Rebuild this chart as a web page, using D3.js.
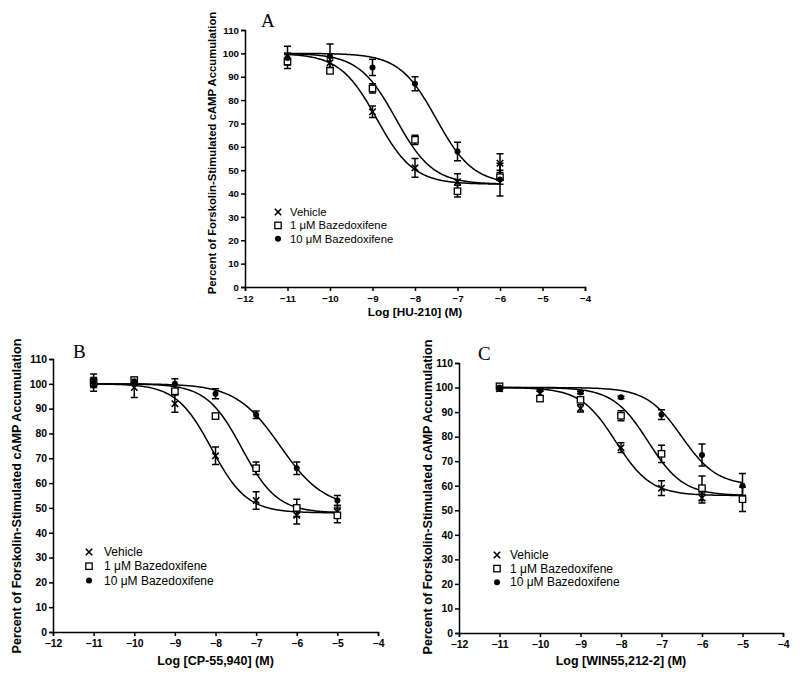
<!DOCTYPE html>
<html><head><meta charset="utf-8">
<script src="https://cdn.jsdelivr.net/npm/d3@7"></script>
<style>body{margin:0;background:#fff}svg{display:block}</style>
</head><body>
<svg id="chart" width="800" height="681"></svg>
<script>
// ---------- DATA ----------
const seriesNames = ["Vehicle", "1 \u03bcM Bazedoxifene", "10 \u03bcM Bazedoxifene"];
const xTickValues = [-12, -11, -10, -9, -8, -7, -6, -5, -4];
const yTickValues = [0, 10, 20, 30, 40, 50, 60, 70, 80, 90, 100, 110];

// Panel A: HU-210
const hu210Dose = [-11, -10, -9, -8, -7, -6];
const hu210Vehicle = [99, 96, 75, 51, 45, 53];
const hu210VehicleErr = [4, 2, 2.5, 4, 3.5, 4];
const hu210Bzd1 = [96.5, 92.5, 85, 63, 41, 47];
const hu210Bzd1Err = [3, 1, 2, 2, 2.5, 3];
const hu210Bzd10 = [98, 99, 94, 87, 58, 46];
const hu210Bzd10Err = [2, 5, 3.5, 3, 4, 7];
// fit: [top, bottom, logIC50, hill]
const hu210Fit = [[100, 44, -8.9, 1], [100, 44, -8.45, 1], [100, 44, -7.5, 1]];

// Panel B: CP-55,940
const cpDose = [-11, -10, -9, -8, -7, -6, -5];
const cpVehicle = [100.5, 98.5, 92, 71, 53, 47, 48.5];
const cpVehicleErr = [3.5, 4, 3.5, 3.5, 3.5, 3.5, 2.5];
const cpBzd1 = [100.5, 101.5, 97, 87, 66, 50, 47];
const cpBzd1Err = [1.5, 1, 1, 1, 2.5, 3.5, 3];
const cpBzd10 = [100.5, 101, 100, 96, 87.5, 66, 53];
const cpBzd10Err = [2, 1, 2, 2, 1.5, 2.5, 2];
const cpFit = [[100, 48, -8.1, 1], [100, 48, -7.35, 1], [100, 50, -6.41, 0.8]];

// Panel C: WIN55,212-2
const winDose = [-11, -10, -9, -8, -7, -6, -5];
const winVehicle = [99.5, 97.5, 91.5, 75.5, 59, 55, 55];
const winVehicleErr = [1, 1, 1.5, 2, 3, 2, 1];
const winBzd1 = [100.5, 95.5, 95, 88.5, 73, 59, 54.5];
const winBzd1Err = [1, 1, 1, 2, 3.5, 5, 5];
const winBzd10 = [100, 99, 98, 96, 89, 72.5, 60];
const winBzd10Err = [0.5, 0.5, 0.5, 0.5, 2, 4.5, 5];
const winFit = [[100, 56, -8.13, 1], [100, 56, -7.33, 1], [100, 60, -6.5, 1]];

// ---------- LAYOUT ----------
const panels = [
  { letter: "A", xlabel: "Log [HU-210] (M)", dose: hu210Dose,
    values: [hu210Vehicle, hu210Bzd1, hu210Bzd10], errs: [hu210VehicleErr, hu210Bzd1Err, hu210Bzd10Err], fits: hu210Fit,
    x0: 245, x1: 585, y0: 287, y1: 30, ylabX: 212, ylabCY: 153, ylabFS: 11.3, tickFS: 9.7, xTickY: 12,
    letterX: 261, letterY: 27, xlabY: 316, xlabFS: 11.8,
    legX: 278, legTextX: 290, legY: 212, legDy: 13.4, legFS: 11.3 },
  { letter: "B", xlabel: "Log [CP-55,940] (M)", dose: cpDose,
    values: [cpVehicle, cpBzd1, cpBzd10], errs: [cpVehicleErr, cpBzd1Err, cpBzd10Err], fits: cpFit,
    x0: 53, x1: 378, y0: 632, y1: 359, ylabX: 17, ylabCY: 496, ylabFS: 12.6, tickFS: 10.4, xTickY: 11,
    letterX: 73, letterY: 358, xlabY: 665, xlabFS: 12.5,
    legX: 89, legTextX: 104, legY: 552, legDy: 14.2, legFS: 12 },
  { letter: "C", xlabel: "Log [WIN55,212-2] (M)", dose: winDose,
    values: [winVehicle, winBzd1, winBzd10], errs: [winVehicleErr, winBzd1Err, winBzd10Err], fits: winFit,
    x0: 459, x1: 783, y0: 633, y1: 363, ylabX: 428, ylabCY: 497, ylabFS: 12.6, tickFS: 10.4, xTickY: 11,
    letterX: 478, letterY: 360, xlabY: 665, xlabFS: 12.5,
    legX: 497, legTextX: 510, legY: 555, legDy: 13.6, legFS: 12 }
];

const svg = d3.select("#chart");
const FONT = "'Liberation Sans', Arial, sans-serif";

function drawMarker(g, type, cx, cy) {
  if (type === 0) {
    const s = 3.2;
    g.append("path").attr("d", `M${cx - s},${cy - s}L${cx + s},${cy + s}M${cx - s},${cy + s}L${cx + s},${cy - s}`)
      .attr("stroke", "#000").attr("stroke-width", 1.6).attr("fill", "none");
  } else if (type === 1) {
    const s = 3.2;
    g.append("rect").attr("x", cx - s).attr("y", cy - s).attr("width", 2 * s).attr("height", 2 * s)
      .attr("fill", "#fff").attr("stroke", "#000").attr("stroke-width", 1.3);
  } else {
    g.append("circle").attr("cx", cx).attr("cy", cy).attr("r", 3).attr("fill", "#000");
  }
}

panels.forEach(p => {
  const x = d3.scaleLinear().domain([-12, -4]).range([p.x0, p.x1]);
  const y = d3.scaleLinear().domain([0, 110]).range([p.y0, p.y1]);
  const g = svg.append("g");

  // axes
  const xa = g.append("g").attr("transform", `translate(0,${p.y0})`)
    .call(d3.axisBottom(x).tickValues(xTickValues).tickFormat(d3.format("d")).tickSizeOuter(0).tickSize(4));
  const ya = g.append("g").attr("transform", `translate(${p.x0},0)`)
    .call(d3.axisLeft(y).tickValues(yTickValues).tickFormat(d3.format("d")).tickSizeOuter(0).tickSize(4).tickPadding(2));
  [xa, ya].forEach(a => {
    a.select(".domain").attr("stroke", "#000").attr("stroke-width", 1.5);
    a.selectAll(".tick line").attr("stroke", "#000").attr("stroke-width", 1.5);
    a.selectAll(".tick text").attr("fill", "#000").style("font-family", FONT)
      .style("font-weight", "bold").style("font-size", p.tickFS + "px");
  });
  xa.selectAll(".tick text").attr("y", p.xTickY).attr("dy", "0.35em");

  // axis titles
  g.append("text").attr("x", (p.x0 + p.x1) / 2).attr("y", p.xlabY).attr("text-anchor", "middle")
    .style("font-family", FONT).style("font-weight", "bold").style("font-size", p.xlabFS + "px").text(p.xlabel);
  g.append("text").attr("transform", `translate(${p.ylabX},${p.ylabCY}) rotate(-90)`)
    .attr("text-anchor", "middle").attr("dy", "0.35em")
    .style("font-family", FONT).style("font-weight", "bold").style("font-size", p.ylabFS + "px")
    .text("Percent of Forskolin-Stimulated cAMP Accumulation");

  // panel letter
  g.append("text").attr("x", p.letterX).attr("y", p.letterY)
    .style("font-family", "'Liberation Serif', 'Times New Roman', serif").style("font-size", "19px").text(p.letter);

  // fitted curves
  const xsCurve = d3.range(0, 201).map(i => p.dose[0] + (p.dose[p.dose.length - 1] - p.dose[0]) * i / 200);
  p.fits.forEach(f => {
    const [top, bottom, c, h] = f;
    const pts = xsCurve.map(v => [v, bottom + (top - bottom) / (1 + Math.pow(10, h * (v - c)))]);
    g.append("path").attr("d", d3.line().x(d => x(d[0])).y(d => y(d[1]))(pts))
      .attr("fill", "none").attr("stroke", "#000").attr("stroke-width", 1.5);
  });

  // error bars
  p.values.forEach((vals, si) => {
    vals.forEach((v, i) => {
      const cx = x(p.dose[i]), e = p.errs[si][i];
      const yt = y(v + e), yb = y(v - e);
      g.append("path").attr("d", `M${cx},${yt}L${cx},${yb}M${cx - 3.5},${yt}L${cx + 3.5},${yt}M${cx - 3.5},${yb}L${cx + 3.5},${yb}`)
        .attr("stroke", "#000").attr("stroke-width", 1.5).attr("fill", "none");
    });
  });
  // markers
  p.values.forEach((vals, si) => {
    vals.forEach((v, i) => drawMarker(g, si, x(p.dose[i]), y(v)));
  });

  // legend
  seriesNames.forEach((name, si) => {
    const ly = p.legY + si * p.legDy;
    drawMarker(g, si, p.legX, ly);
    g.append("text").attr("x", p.legTextX).attr("y", ly).attr("dy", "0.35em")
      .style("font-family", FONT).style("font-size", p.legFS + "px").text(name);
  });
});
</script>
</body></html>
